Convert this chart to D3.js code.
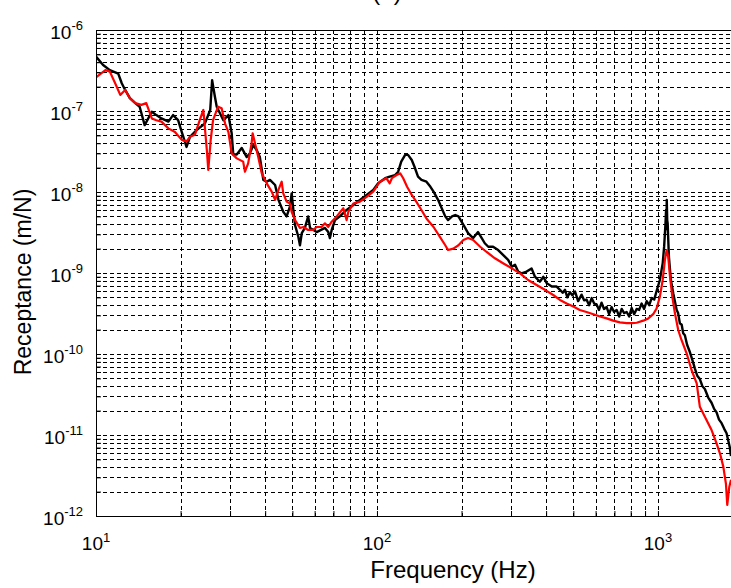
<!DOCTYPE html>
<html>
<head>
<meta charset="utf-8">
<script src="https://cdn.jsdelivr.net/npm/d3@7/dist/d3.min.js"></script>
<style>
    body { margin: 0; background: #fff; }
    #chart { width: 731px; height: 588px; }
    text { font-family: "Liberation Sans", Arial, sans-serif; fill: #000; }
    .grid line { stroke: #000; stroke-width: 1; stroke-dasharray: 4,3; shape-rendering: crispEdges; }
    .frame line { stroke: #000; stroke-width: 1.2; shape-rendering: crispEdges; }
    .line { fill: none; stroke-linejoin: round; }
</style>
</head>
<body>
<div id="chart"></div>
<script>

// measured receptance (black)
const freqBlack = [
    10, 10.6, 11.2, 12.0, 12.35, 12.7, 13.2, 13.8, 14.3, 14.9, 15.8, 16.4, 17.1, 18.1, 18.8, 19.6,
    20.2, 21.0, 21.6, 22.8, 24.4, 25.5, 25.9, 26.5, 26.9, 28.4, 29.6, 30.4, 30.8, 31.7, 33.0, 34.4,
    35.3, 36.3, 37.3, 38.3, 39.4, 40.5, 41.6, 43.4, 44.6, 46.4, 47.7, 49.0, 49.7, 50.4, 51.1, 52.5,
    53.2, 54.0, 55.4, 56.9, 57.8, 61.0, 65.3, 67.1, 68.0, 69.0, 70.9, 73.8, 78.0, 82.4, 87.0, 91.9,
    97.0, 101, 107, 111, 116, 119, 122, 126, 129, 133, 136, 140, 144, 150, 155, 159,
    165, 170, 175, 179, 185, 190, 195, 200, 206, 211, 220, 229, 236, 242, 249, 259,
    270, 281, 293, 302, 310, 318, 327, 341, 355, 365, 380, 391, 402, 419, 436, 448,
    458, 467, 476, 486, 496, 507, 520, 535, 546, 557, 569, 581, 593, 605, 617, 630,
    643, 657, 670, 684, 698, 713, 728, 743, 758, 774, 790, 806, 823, 840, 857, 875,
    893, 912, 931, 950, 970, 989, 1016, 1040, 1052, 1064, 1069, 1072, 1075, 1079, 1083, 1094,
    1112, 1134, 1166, 1180, 1197, 1215, 1230, 1247, 1270, 1300, 1325, 1354, 1380, 1410, 1440, 1469,
    1510, 1552, 1585, 1617, 1650, 1685, 1720, 1755, 1780, 1803, 1820
];
const recBlack = [
    4.7e-7, 3.7e-7, 3.2e-7, 2.9e-7, 2.2e-7, 1.82e-7, 1.44e-7, 1.25e-7, 1.13e-7, 6.7e-8, 9.8e-8, 8.9e-8, 8.1e-8, 7.4e-8, 8.9e-8, 7.7e-8,
    5.5e-8, 3.6e-8, 4.8e-8, 5.8e-8, 7.0e-8, 1.03e-7, 2.4e-7, 1.5e-7, 1.13e-7, 7.7e-8, 8.9e-8, 5.3e-8, 2.9e-8, 2.9e-8, 3.5e-8, 2.7e-8,
    3.0e-8, 3.8e-8, 3.3e-8, 2.7e-8, 1.41e-8, 1.34e-8, 1.41e-8, 1.22e-8, 8.0e-9, 5.7e-9, 5.0e-9, 6.6e-9, 9.6e-9, 6.0e-9, 3.9e-9, 2.8e-9,
    2.2e-9, 3.1e-9, 3.6e-9, 5.0e-9, 3.6e-9, 3.2e-9, 3.6e-9, 3.2e-9, 2.7e-9, 3.4e-9, 4.5e-9, 5.0e-9, 6.0e-9, 6.9e-9, 8.0e-9, 9.2e-9,
    1.06e-8, 1.28e-8, 1.48e-8, 1.55e-8, 1.62e-8, 1.78e-8, 2.37e-8, 2.87e-8, 2.87e-8, 2.48e-8, 2.05e-8, 1.55e-8, 1.41e-8, 1.34e-8, 1.16e-8, 1.01e-8,
    8.0e-9, 6.3e-9, 5.0e-9, 4.5e-9, 5.0e-9, 5.2e-9, 5.0e-9, 4.3e-9, 3.6e-9, 3.1e-9, 2.7e-9, 3.2e-9, 2.7e-9, 2.33e-9, 2.11e-9, 2.11e-9,
    1.92e-9, 1.67e-9, 1.45e-9, 1.2e-9, 1.26e-9, 1.04e-9, 9.9e-10, 1.04e-9, 1.14e-9, 9.0e-10, 7.8e-10, 9.0e-10, 7.5e-10, 6.8e-10, 6.8e-10, 6.2e-10,
    5.7e-10, 6.2e-10, 5.0e-10, 5.8e-10, 5.3e-10, 5.9e-10, 4.5e-10, 5.4e-10, 4.6e-10, 4.7e-10, 4.0e-10, 4.9e-10, 4.2e-10, 4.1e-10, 3.5e-10, 4.3e-10,
    3.6e-10, 3.8e-10, 3.1e-10, 3.8e-10, 3.3e-10, 3.5e-10, 2.9e-10, 3.6e-10, 3.2e-10, 3.3e-10, 2.9e-10, 3.7e-10, 3.1e-10, 3.6e-10, 3.5e-10, 4.2e-10,
    3.6e-10, 4.5e-10, 4.0e-10, 4.9e-10, 4.7e-10, 6.0e-10, 8.2e-10, 1.32e-9, 2.1e-9, 4.1e-9, 6.0e-9, 3.5e-9, 8.0e-9, 4.5e-9, 4.1e-9, 1.59e-9,
    8.2e-10, 5.6e-10, 3.5e-10, 3.2e-10, 2.4e-10, 2.3e-10, 1.8e-10, 1.7e-10, 1.3e-10, 1.05e-10, 8.5e-11, 6.6e-11, 5.4e-11, 4.9e-11, 4.0e-11, 3.7e-11,
    2.9e-11, 2.5e-11, 2.1e-11, 1.9e-11, 1.55e-11, 1.4e-11, 1.2e-11, 1.05e-11, 8.5e-12, 7.0e-12, 5.5e-12
];

// model receptance (red)
const freqRed = [
    10, 10.8, 11.2, 11.7, 12.2, 12.7, 13.2, 13.8, 14.5, 15.1, 15.8, 16.4, 17.1, 18.1, 19.1, 20.2,
    21.0, 21.6, 22.5, 23.4, 24.1, 24.8, 25.1, 25.6, 26.1, 27.2, 28.0, 28.8, 29.6, 30.4, 31.7, 33.4,
    33.9, 34.8, 35.8, 36.1, 36.8, 37.8, 38.9, 40.5, 42.2, 43.4, 44.6, 45.8, 46.4, 47.7, 49.0, 49.7,
    51.1, 53.2, 54.7, 56.9, 59.3, 61.0, 63.5, 65.3, 67.1, 69.0, 71.9, 75.9, 78.0, 79.1, 82.4, 87.0,
    91.9, 97.0, 102.5, 108, 111, 113, 117.5, 121, 124, 128, 133, 138, 144, 150, 159, 167.5,
    175, 179, 187, 195, 203, 211, 220, 233, 245, 263, 281, 302, 323, 345, 370, 396,
    424, 448, 473, 500, 527, 557, 589, 622, 657, 693, 732, 774, 806, 840, 887, 924,
    962, 989, 1016, 1040, 1059, 1074, 1088, 1104, 1125, 1149, 1181, 1213, 1265, 1318, 1374, 1410,
    1469, 1552, 1617, 1663, 1708, 1746, 1765, 1795, 1820
];
const recRed = [
    2.6e-7, 3.2e-7, 3.06e-7, 2.2e-7, 1.58e-7, 1.82e-7, 1.44e-7, 1.25e-7, 1.19e-7, 1.25e-7, 8.1e-8, 7.7e-8, 7.4e-8, 6.1e-8, 5.5e-8, 4.4e-8,
    4.2e-8, 4.8e-8, 5.1e-8, 7.7e-8, 1.03e-7, 3.3e-8, 1.87e-8, 4.4e-8, 7.7e-8, 1.13e-7, 1.08e-7, 7.0e-8, 5.5e-8, 3.0e-8, 2.6e-8, 2.37e-8,
    1.78e-8, 2.26e-8, 4.0e-8, 5.3e-8, 4.0e-8, 2.7e-8, 1.7e-8, 1.28e-8, 1.01e-8, 8.0e-9, 1.06e-8, 1.34e-8, 9.6e-9, 7.6e-9, 7.2e-9, 5.7e-9,
    4.5e-9, 3.6e-9, 3.7e-9, 3.4e-9, 3.4e-9, 3.7e-9, 3.7e-9, 4.1e-9, 3.7e-9, 4.3e-9, 5.0e-9, 6.3e-9, 4.5e-9, 5.7e-9, 7.2e-9, 7.6e-9,
    8.7e-9, 1.01e-8, 1.34e-8, 1.48e-8, 1.28e-8, 1.48e-8, 1.62e-8, 1.7e-8, 1.48e-8, 1.16e-8, 9.2e-9, 7.6e-9, 6.0e-9, 4.7e-9, 3.7e-9, 2.8e-9,
    2.2e-9, 1.92e-9, 2.0e-9, 2.2e-9, 2.55e-9, 2.7e-9, 2.55e-9, 2.11e-9, 1.83e-9, 1.52e-9, 1.32e-9, 1.14e-9, 9.9e-10, 8.2e-10, 7.1e-10, 6.2e-10,
    5.35e-10, 4.65e-10, 4.2e-10, 3.85e-10, 3.5e-10, 3.3e-10, 3.1e-10, 2.9e-10, 2.75e-10, 2.58e-10, 2.46e-10, 2.4e-10, 2.4e-10, 2.43e-10, 2.58e-10, 2.75e-10,
    3.1e-10, 3.65e-10, 5.1e-10, 8.2e-10, 1.45e-9, 1.92e-9, 1.59e-9, 9.0e-10, 5.1e-10, 3.2e-10, 1.98e-10, 1.49e-10, 1.02e-10, 6.3e-11, 4.35e-11, 2.23e-11,
    1.68e-11, 1.15e-11, 7.9e-12, 5.9e-12, 4.1e-12, 2.5e-12, 1.37e-12, 2.3e-12, 2.8e-12
];

const xTickExponents = [1, 2, 3];
const yTickExponents = [-12, -11, -10, -9, -8, -7, -6];

const xLabel = 'Frequency (Hz)';
const yLabel = 'Receptance (m/N)';
const title = '(a)';


class ReceptanceChart {


    constructor() {

        this._width = 731;
        this._height = 588;
        this._margin = {
            left: 96,
            top: 30,
            right: 0,
            bottom: 72
        };
        this._xDomain = [10, 1820];
        this._yDomain = [1e-12, 1e-6];
    }


    renderTo(selector) {

        this._svg = d3.select(selector)
            .append('svg')
            .attr('width', this._width)
            .attr('height', this._height);

        this._x = d3.scaleLog()
            .domain(this._xDomain)
            .range([this._margin.left, this._width - this._margin.right]);

        this._y = d3.scaleLog()
            .domain(this._yDomain)
            .range([this._height - this._margin.bottom, this._margin.top]);

        this._svg.append('defs')
            .append('clipPath')
            .attr('id', 'clip')
            .append('rect')
            .attr('x', this._margin.left)
            .attr('y', this._margin.top)
            .attr('width', this._width - this._margin.left - this._margin.right)
            .attr('height', this._height - this._margin.top - this._margin.bottom);

        this._drawGrid();
        this._drawLines();
        this._drawFrame();
        this._drawLabels();

        return this;
    }


    _drawGrid() {

        const x = this._x, y = this._y;
        const [x0, x1] = x.range();
        const [y0, y1] = y.range();
        const grid = this._svg.append('g').attr('class', 'grid');

        grid.selectAll('.gx')
            .data(x.ticks().filter(d => d > this._xDomain[0]))
            .join('line')
            .attr('class', 'gx')
            .attr('x1', d => Math.round(x(d)) + 0.5)
            .attr('x2', d => Math.round(x(d)) + 0.5)
            .attr('y1', y1)
            .attr('y2', y0);

        grid.selectAll('.gy')
            .data(y.ticks().filter(d => d > this._yDomain[0] * 1.01 && d < this._yDomain[1] * 0.99))
            .join('line')
            .attr('class', 'gy')
            .attr('x1', x0)
            .attr('x2', x1)
            .attr('y1', d => Math.round(y(d)) + 0.5)
            .attr('y2', d => Math.round(y(d)) + 0.5);
    }


    _drawLines() {

        const line = d3.line()
            .x(d => this._x(d[0]))
            .y(d => this._y(d[1]));

        const g = this._svg.append('g').attr('clip-path', 'url(#clip)');

        g.append('path')
            .attr('class', 'line')
            .attr('stroke', '#000')
            .attr('stroke-width', 2.4)
            .attr('d', line(d3.zip(freqBlack, recBlack)));

        g.append('path')
            .attr('class', 'line')
            .attr('stroke', '#ff0000')
            .attr('stroke-width', 2.2)
            .attr('d', line(d3.zip(freqRed, recRed)));
    }


    _drawFrame() {

        const [x0, x1] = this._x.range();
        const [y0, y1] = this._y.range();

        // inward ticks like matlab
        this._svg.append('g')
            .attr('transform', 'translate(0,' + y0 + ')')
            .call(d3.axisBottom(this._x).tickValues(this._x.ticks()).tickSize(-5).tickFormat(''))
            .call(g => g.select('.domain').remove());

        this._svg.append('g')
            .attr('transform', 'translate(' + x0 + ',0)')
            .call(d3.axisLeft(this._y).tickValues(this._y.ticks()).tickSize(-5).tickFormat(''))
            .call(g => g.select('.domain').remove());

        const frame = this._svg.append('g').attr('class', 'frame');
        frame.append('line').attr('x1', x0).attr('x2', x1).attr('y1', y0 + 0.5).attr('y2', y0 + 0.5);
        frame.append('line').attr('x1', x0).attr('x2', x1).attr('y1', y1 + 0.5).attr('y2', y1 + 0.5);
        frame.append('line').attr('x1', x0 + 0.5).attr('x2', x0 + 0.5).attr('y1', y1).attr('y2', y0);
    }


    _drawLabels() {

        const x = this._x, y = this._y;
        const yBottom = y.range()[0];
        const xLeft = x.range()[0];

        const xt = this._svg.append('g').selectAll('text')
            .data(xTickExponents)
            .join('text')
            .attr('x', d => x(Math.pow(10, d)))
            .attr('y', yBottom + 34)
            .attr('text-anchor', 'middle')
            .attr('font-size', 19);
        xt.append('tspan').text('10');
        xt.append('tspan').attr('dy', -8).attr('font-size', 13).text(d => d);

        const yt = this._svg.append('g').selectAll('text')
            .data(yTickExponents)
            .join('text')
            .attr('x', xLeft - 13)
            .attr('y', d => y(Math.pow(10, d)) + 9)
            .attr('text-anchor', 'end')
            .attr('font-size', 19);
        yt.append('tspan').text('10');
        yt.append('tspan').attr('dy', -9).attr('font-size', 13).text(d => d);

        this._svg.append('text')
            .attr('x', 453)
            .attr('y', 578)
            .attr('text-anchor', 'middle')
            .attr('font-size', 24)
            .text(xLabel);

        this._svg.append('text')
            .attr('transform', 'translate(31,282) rotate(-90)')
            .attr('text-anchor', 'middle')
            .attr('font-size', 23)
            .text(yLabel);

        // title sits above the crop, only its lower edge shows
        this._svg.append('text')
            .attr('x', 387)
            .attr('y', 0)
            .attr('text-anchor', 'middle')
            .attr('font-size', 24)
            .text(title);
    }
}


new ReceptanceChart().renderTo('#chart');

</script>
</body>
</html>
